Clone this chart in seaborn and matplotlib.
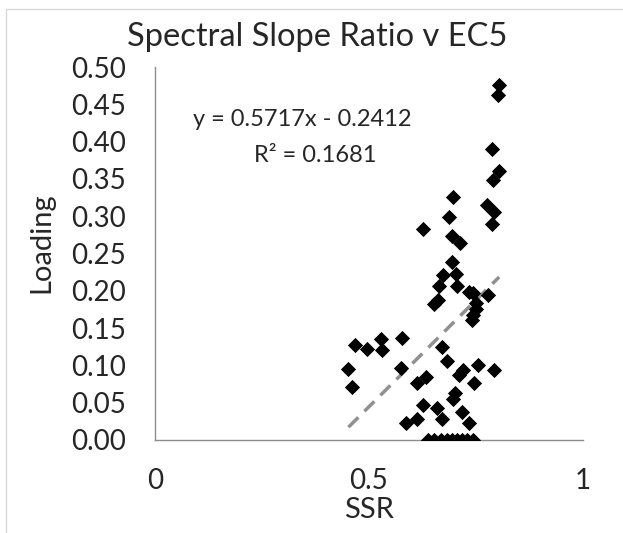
import numpy as np
import pandas as pd
import matplotlib
matplotlib.use('Agg')
import matplotlib.pyplot as plt
from matplotlib.lines import Line2D
import seaborn as sns

# values
ssr = [0.804, 0.801, 0.787, 0.804, 0.789, 0.697, 0.775, 0.793, 0.688, 0.787,
       0.627, 0.693, 0.713, 0.693, 0.672, 0.703, 0.664, 0.705, 0.734, 0.744,
       0.777, 0.662, 0.653, 0.750, 0.749, 0.744, 0.740, 0.467, 0.495, 0.528,
       0.530, 0.578, 0.670, 0.682, 0.452, 0.574, 0.720, 0.711, 0.754, 0.793,
       0.633, 0.611, 0.746, 0.460, 0.701, 0.696, 0.625, 0.658, 0.717, 0.670,
       0.611, 0.586, 0.734, 0.638, 0.653, 0.668, 0.683, 0.693, 0.705, 0.718,
       0.730, 0.743]
loading = [0.476, 0.462, 0.390, 0.360, 0.349, 0.326, 0.315, 0.306, 0.299, 0.289,
           0.283, 0.273, 0.264, 0.239, 0.221, 0.223, 0.207, 0.206, 0.198, 0.197,
           0.195, 0.188, 0.182, 0.183, 0.175, 0.168, 0.161, 0.127, 0.122, 0.135,
           0.120, 0.137, 0.124, 0.106, 0.095, 0.096, 0.094, 0.087, 0.100, 0.094,
           0.085, 0.076, 0.077, 0.071, 0.063, 0.055, 0.047, 0.043, 0.037, 0.028,
           0.028, 0.023, 0.023, 0.0, 0.0, 0.0, 0.0, 0.0, 0.0, 0.0,
           0.0, 0.0]

slope = 0.5717
intercept = -0.2412
r2 = 0.1681

df = pd.DataFrame({'SSR': ssr, 'Loading': loading})
trend_x = [min(ssr), max(ssr)]
trend = pd.DataFrame({'SSR': trend_x,
                      'Loading': [slope * v + intercept for v in trend_x]})

sns.set_style('white')
plt.rcParams['font.family'] = ['Lato', 'DejaVu Sans']

fig = plt.figure(figsize=(6.23, 5.33), dpi=100)
ax = fig.add_axes([155 / 623, 93 / 533, 428 / 623, 373 / 533])

# light frame (top and left edges only are visible in the reference)
fig.add_artist(Line2D([0.0096, 0.0096, 1.0], [0.0, 0.983, 0.983],
                      transform=fig.transFigure, color='#d9d9d9', linewidth=1))

sns.scatterplot(data=df, x='SSR', y='Loading', marker='D', color='black',
                s=60, edgecolor='black', linewidth=0, ax=ax, zorder=3)
sns.lineplot(data=trend, x='SSR', y='Loading', color='#909090', linewidth=2.5,
             ax=ax, zorder=2)
ax.lines[-1].set_linestyle((0, (4, 2.5)))

ax.set_xlim(0, 1)
ax.set_ylim(0, 0.5)
ax.set_xticks([0, 0.5, 1])
ax.set_xticklabels(['0', '0.5', '1'])
ax.set_yticks(np.arange(0, 0.501, 0.05))
ax.set_yticklabels([f'{v:.2f}' for v in np.arange(0, 0.501, 0.05)])
ax.tick_params(axis='both', labelsize=20, length=0)
ax.tick_params(axis='y', pad=21)
ax.tick_params(axis='x', pad=20)

for side in ['top', 'right']:
    ax.spines[side].set_visible(False)
for side in ['left', 'bottom']:
    ax.spines[side].set_color('#8c8c8c')
    ax.spines[side].set_linewidth(1)

ax.set_xlabel('SSR', fontsize=21, labelpad=2)
ax.set_ylabel('Loading', fontsize=21, labelpad=8)
ax.yaxis.set_label_coords(-0.235, 0.53)
fig.text(317 / 623, 1 - 37 / 533, 'Spectral Slope Ratio v EC5', fontsize=23.5,
         ha='center', va='center')

ax.text(0.343, 0.429, f'y = {slope}x - {abs(intercept)}', fontsize=17,
        ha='center', va='center')
ax.text(0.374, 0.381, f'R² = {r2}', fontsize=17,
        ha='center', va='center')

fig.savefig('out.png', dpi=100)
